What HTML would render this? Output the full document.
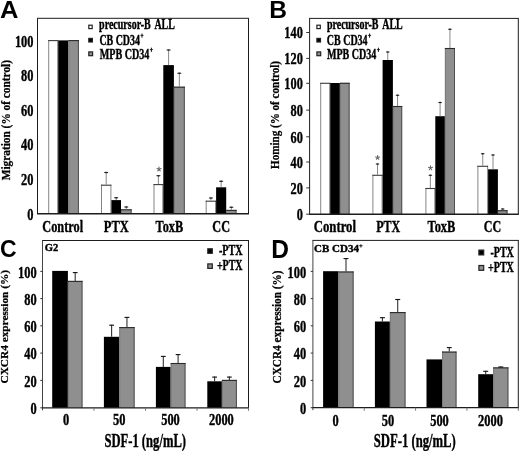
<!DOCTYPE html>
<html><head><meta charset="utf-8"><style>
html,body{margin:0;padding:0;background:#fff;}
body{width:520px;height:451px;overflow:hidden;}
svg{display:block;filter:blur(0.35px);}
</style></head><body>
<svg width="520" height="451" viewBox="0 0 520 451">
<rect x="0" y="0" width="520" height="451" fill="#fff"/>
<rect x="48.20" y="40.10" width="10.00" height="173.70" fill="#fff"/>
<line x1="48.70" y1="40.10" x2="48.70" y2="213.80" stroke="#858585" stroke-width="1"/>
<line x1="57.70" y1="40.10" x2="57.70" y2="213.80" stroke="#858585" stroke-width="1"/>
<line x1="48.20" y1="40.60" x2="58.20" y2="40.60" stroke="#3a3a3a" stroke-width="1.1"/>
<rect x="58.20" y="40.40" width="10.20" height="173.40" fill="#000"/>
<rect x="68.40" y="40.10" width="10.50" height="173.70" fill="#8f8f8f"/>
<line x1="68.90" y1="40.10" x2="68.90" y2="213.80" stroke="#7a7a7a" stroke-width="1"/>
<line x1="78.40" y1="40.10" x2="78.40" y2="213.80" stroke="#505050" stroke-width="1"/>
<line x1="68.40" y1="40.60" x2="78.90" y2="40.60" stroke="#2a2a2a" stroke-width="1.1"/>
<rect x="101.00" y="184.70" width="10.40" height="29.10" fill="#fff"/>
<line x1="101.50" y1="184.70" x2="101.50" y2="213.80" stroke="#858585" stroke-width="1"/>
<line x1="110.90" y1="184.70" x2="110.90" y2="213.80" stroke="#858585" stroke-width="1"/>
<line x1="101.00" y1="185.20" x2="111.40" y2="185.20" stroke="#3a3a3a" stroke-width="1.1"/>
<line x1="106.20" y1="172.00" x2="106.20" y2="184.70" stroke="#888" stroke-width="1.0"/>
<ellipse cx="106.20" cy="172.50" rx="2.20" ry="0.75" fill="#222"/>
<rect x="111.40" y="200.10" width="9.60" height="13.70" fill="#000"/>
<line x1="116.20" y1="197.20" x2="116.20" y2="200.10" stroke="#888" stroke-width="1.0"/>
<ellipse cx="116.20" cy="197.70" rx="2.20" ry="0.75" fill="#222"/>
<rect x="121.00" y="209.30" width="10.60" height="4.50" fill="#8f8f8f"/>
<line x1="121.50" y1="209.30" x2="121.50" y2="213.80" stroke="#7a7a7a" stroke-width="1"/>
<line x1="131.10" y1="209.30" x2="131.10" y2="213.80" stroke="#505050" stroke-width="1"/>
<line x1="121.00" y1="209.80" x2="131.60" y2="209.80" stroke="#2a2a2a" stroke-width="1.1"/>
<line x1="126.30" y1="206.50" x2="126.30" y2="209.30" stroke="#888" stroke-width="1.0"/>
<ellipse cx="126.30" cy="207.00" rx="2.20" ry="0.75" fill="#222"/>
<rect x="153.50" y="184.10" width="9.80" height="29.70" fill="#fff"/>
<line x1="154.00" y1="184.10" x2="154.00" y2="213.80" stroke="#858585" stroke-width="1"/>
<line x1="162.80" y1="184.10" x2="162.80" y2="213.80" stroke="#858585" stroke-width="1"/>
<line x1="153.50" y1="184.60" x2="163.30" y2="184.60" stroke="#3a3a3a" stroke-width="1.1"/>
<line x1="158.40" y1="175.20" x2="158.40" y2="184.10" stroke="#888" stroke-width="1.0"/>
<ellipse cx="158.40" cy="175.70" rx="2.20" ry="0.75" fill="#222"/>
<rect x="163.30" y="65.10" width="10.60" height="148.70" fill="#000"/>
<line x1="168.60" y1="49.50" x2="168.60" y2="65.10" stroke="#888" stroke-width="1.0"/>
<ellipse cx="168.60" cy="50.00" rx="2.20" ry="0.75" fill="#222"/>
<rect x="173.90" y="86.70" width="10.90" height="127.10" fill="#8f8f8f"/>
<line x1="174.40" y1="86.70" x2="174.40" y2="213.80" stroke="#7a7a7a" stroke-width="1"/>
<line x1="184.30" y1="86.70" x2="184.30" y2="213.80" stroke="#505050" stroke-width="1"/>
<line x1="173.90" y1="87.20" x2="184.80" y2="87.20" stroke="#2a2a2a" stroke-width="1.1"/>
<line x1="179.35" y1="72.70" x2="179.35" y2="86.70" stroke="#888" stroke-width="1.0"/>
<ellipse cx="179.35" cy="73.20" rx="2.20" ry="0.75" fill="#222"/>
<rect x="205.70" y="200.70" width="10.40" height="13.10" fill="#fff"/>
<line x1="206.20" y1="200.70" x2="206.20" y2="213.80" stroke="#858585" stroke-width="1"/>
<line x1="215.60" y1="200.70" x2="215.60" y2="213.80" stroke="#858585" stroke-width="1"/>
<line x1="205.70" y1="201.20" x2="216.10" y2="201.20" stroke="#3a3a3a" stroke-width="1.1"/>
<line x1="210.90" y1="197.50" x2="210.90" y2="200.70" stroke="#888" stroke-width="1.0"/>
<ellipse cx="210.90" cy="198.00" rx="2.20" ry="0.75" fill="#222"/>
<rect x="216.10" y="187.30" width="10.10" height="26.50" fill="#000"/>
<line x1="221.15" y1="180.80" x2="221.15" y2="187.30" stroke="#888" stroke-width="1.0"/>
<ellipse cx="221.15" cy="181.30" rx="2.20" ry="0.75" fill="#222"/>
<rect x="226.20" y="209.90" width="10.30" height="3.90" fill="#8f8f8f"/>
<line x1="226.70" y1="209.90" x2="226.70" y2="213.80" stroke="#7a7a7a" stroke-width="1"/>
<line x1="236.00" y1="209.90" x2="236.00" y2="213.80" stroke="#505050" stroke-width="1"/>
<line x1="226.20" y1="210.40" x2="236.50" y2="210.40" stroke="#2a2a2a" stroke-width="1.1"/>
<line x1="231.35" y1="206.80" x2="231.35" y2="209.90" stroke="#888" stroke-width="1.0"/>
<ellipse cx="231.35" cy="207.30" rx="2.20" ry="0.75" fill="#222"/>
<path d="M159.00,169.20 L159.00,167.10 M159.00,169.20 L161.00,168.55 M159.00,169.20 L160.23,170.90 M159.00,169.20 L157.77,170.90 M159.00,169.20 L157.00,168.55 " stroke="#666" stroke-width="1.1" stroke-linecap="round" fill="none"/>
<line x1="37.00" y1="18.30" x2="249.00" y2="18.30" stroke="#1c1c1c" stroke-width="1"/>
<line x1="248.50" y1="18.30" x2="248.50" y2="213.80" stroke="#1c1c1c" stroke-width="1"/>
<line x1="37.50" y1="18.30" x2="37.50" y2="213.80" stroke="#1c1c1c" stroke-width="1"/>
<line x1="37.00" y1="213.80" x2="249.00" y2="213.80" stroke="#1c1c1c" stroke-width="1.4"/>
<text x="14.90" y="46.68" style="font-family:'Liberation Serif',serif;font-weight:bold;font-size:17.2px" fill="#000" text-anchor="start" textLength="18.60" lengthAdjust="spacingAndGlyphs" stroke="#000" stroke-width="0.4">100</text>
<text x="21.10" y="81.38" style="font-family:'Liberation Serif',serif;font-weight:bold;font-size:17.2px" fill="#000" text-anchor="start" textLength="12.40" lengthAdjust="spacingAndGlyphs" stroke="#000" stroke-width="0.4">80</text>
<text x="21.10" y="116.08" style="font-family:'Liberation Serif',serif;font-weight:bold;font-size:17.2px" fill="#000" text-anchor="start" textLength="12.40" lengthAdjust="spacingAndGlyphs" stroke="#000" stroke-width="0.4">60</text>
<text x="21.10" y="150.48" style="font-family:'Liberation Serif',serif;font-weight:bold;font-size:17.2px" fill="#000" text-anchor="start" textLength="12.40" lengthAdjust="spacingAndGlyphs" stroke="#000" stroke-width="0.4">40</text>
<text x="21.10" y="185.18" style="font-family:'Liberation Serif',serif;font-weight:bold;font-size:17.2px" fill="#000" text-anchor="start" textLength="12.40" lengthAdjust="spacingAndGlyphs" stroke="#000" stroke-width="0.4">20</text>
<text x="27.30" y="219.88" style="font-family:'Liberation Serif',serif;font-weight:bold;font-size:17.2px" fill="#000" text-anchor="start" textLength="6.20" lengthAdjust="spacingAndGlyphs" stroke="#000" stroke-width="0.4">0</text>
<text x="42.30" y="232.40" style="font-family:'Liberation Serif',serif;font-weight:bold;font-size:17.5px" fill="#000" text-anchor="start" textLength="40.80" lengthAdjust="spacingAndGlyphs" stroke="#000" stroke-width="0.4">Control</text>
<text x="103.80" y="232.40" style="font-family:'Liberation Serif',serif;font-weight:bold;font-size:17.5px" fill="#000" text-anchor="start" textLength="24.90" lengthAdjust="spacingAndGlyphs" stroke="#000" stroke-width="0.4">PTX</text>
<text x="155.60" y="232.40" style="font-family:'Liberation Serif',serif;font-weight:bold;font-size:17.5px" fill="#000" text-anchor="start" textLength="27.50" lengthAdjust="spacingAndGlyphs" stroke="#000" stroke-width="0.4">ToxB</text>
<text x="212.30" y="232.40" style="font-family:'Liberation Serif',serif;font-weight:bold;font-size:17.5px" fill="#000" text-anchor="start" textLength="17.70" lengthAdjust="spacingAndGlyphs" stroke="#000" stroke-width="0.4">CC</text>
<rect x="88.80" y="25.20" width="3.40" height="3.40" fill="#fff" stroke="#222" stroke-width="1.2"/>
<text x="99.10" y="29.00" style="font-family:'Liberation Serif',serif;font-weight:bold;font-size:14.2px" fill="#000" text-anchor="start" textLength="51.60" lengthAdjust="spacingAndGlyphs" stroke="#000" stroke-width="0.4">precursor-B</text>
<text x="154.40" y="29.00" style="font-family:'Liberation Serif',serif;font-weight:bold;font-size:14.2px" fill="#000" text-anchor="start" textLength="20.40" lengthAdjust="spacingAndGlyphs" stroke="#000" stroke-width="0.4">ALL</text>
<rect x="88.80" y="38.40" width="3.60" height="3.60" fill="#000" stroke="#222" stroke-width="1.2"/>
<text x="99.40" y="44.50" style="font-family:'Liberation Serif',serif;font-weight:bold;font-size:14.2px" fill="#000" text-anchor="start" textLength="40.60" lengthAdjust="spacingAndGlyphs" stroke="#000" stroke-width="0.4">CB CD34</text>
<line x1="140.50" y1="35.39" x2="143.50" y2="35.39" stroke="#111" stroke-width="0.9"/>
<line x1="142.00" y1="33.50" x2="142.00" y2="37.70" stroke="#111" stroke-width="1.0"/>
<rect x="88.80" y="51.90" width="3.80" height="3.80" fill="#8f8f8f" stroke="#222" stroke-width="1.2"/>
<text x="99.80" y="58.70" style="font-family:'Liberation Serif',serif;font-weight:bold;font-size:14.2px" fill="#000" text-anchor="start" textLength="49.60" lengthAdjust="spacingAndGlyphs" stroke="#000" stroke-width="0.4">MPB CD34</text>
<line x1="149.90" y1="49.59" x2="152.90" y2="49.59" stroke="#111" stroke-width="0.9"/>
<line x1="151.40" y1="47.70" x2="151.40" y2="51.90" stroke="#111" stroke-width="1.0"/>
<text transform="translate(9.60,180.30) rotate(-90)" x="0" y="0" style="font-family:'Liberation Serif',serif;font-weight:bold;font-size:12.0px" fill="#000" stroke="#000" stroke-width="0.25" textLength="120.30" lengthAdjust="spacingAndGlyphs">Migration (% of control)</text>
<text transform="translate(0.06,17.90) scale(1.0299,1)" x="0" y="0" style="font-family:'Liberation Sans',sans-serif;font-weight:bold;font-size:24.78px" fill="#000">A</text>
<rect x="320.20" y="82.80" width="10.00" height="131.40" fill="#fff"/>
<line x1="320.70" y1="82.80" x2="320.70" y2="214.20" stroke="#858585" stroke-width="1"/>
<line x1="329.70" y1="82.80" x2="329.70" y2="214.20" stroke="#858585" stroke-width="1"/>
<line x1="320.20" y1="83.30" x2="330.20" y2="83.30" stroke="#3a3a3a" stroke-width="1.1"/>
<rect x="330.20" y="83.00" width="9.70" height="131.20" fill="#000"/>
<rect x="339.90" y="82.80" width="9.70" height="131.40" fill="#8f8f8f"/>
<line x1="340.40" y1="82.80" x2="340.40" y2="214.20" stroke="#7a7a7a" stroke-width="1"/>
<line x1="349.10" y1="82.80" x2="349.10" y2="214.20" stroke="#505050" stroke-width="1"/>
<line x1="339.90" y1="83.30" x2="349.60" y2="83.30" stroke="#2a2a2a" stroke-width="1.1"/>
<rect x="372.40" y="174.80" width="10.20" height="39.40" fill="#fff"/>
<line x1="372.90" y1="174.80" x2="372.90" y2="214.20" stroke="#858585" stroke-width="1"/>
<line x1="382.10" y1="174.80" x2="382.10" y2="214.20" stroke="#858585" stroke-width="1"/>
<line x1="372.40" y1="175.30" x2="382.60" y2="175.30" stroke="#3a3a3a" stroke-width="1.1"/>
<line x1="377.50" y1="163.50" x2="377.50" y2="174.80" stroke="#888" stroke-width="1.0"/>
<ellipse cx="377.50" cy="164.00" rx="1.90" ry="0.75" fill="#222"/>
<rect x="382.60" y="60.00" width="10.30" height="154.20" fill="#000"/>
<line x1="387.75" y1="51.50" x2="387.75" y2="60.00" stroke="#888" stroke-width="1.0"/>
<ellipse cx="387.75" cy="52.00" rx="1.90" ry="0.75" fill="#222"/>
<rect x="392.90" y="106.00" width="9.30" height="108.20" fill="#8f8f8f"/>
<line x1="393.40" y1="106.00" x2="393.40" y2="214.20" stroke="#7a7a7a" stroke-width="1"/>
<line x1="401.70" y1="106.00" x2="401.70" y2="214.20" stroke="#505050" stroke-width="1"/>
<line x1="392.90" y1="106.50" x2="402.20" y2="106.50" stroke="#2a2a2a" stroke-width="1.1"/>
<line x1="397.55" y1="94.70" x2="397.55" y2="106.00" stroke="#888" stroke-width="1.0"/>
<ellipse cx="397.55" cy="95.20" rx="1.90" ry="0.75" fill="#222"/>
<rect x="425.40" y="188.00" width="9.90" height="26.20" fill="#fff"/>
<line x1="425.90" y1="188.00" x2="425.90" y2="214.20" stroke="#858585" stroke-width="1"/>
<line x1="434.80" y1="188.00" x2="434.80" y2="214.20" stroke="#858585" stroke-width="1"/>
<line x1="425.40" y1="188.50" x2="435.30" y2="188.50" stroke="#3a3a3a" stroke-width="1.1"/>
<line x1="430.35" y1="174.80" x2="430.35" y2="188.00" stroke="#888" stroke-width="1.0"/>
<ellipse cx="430.35" cy="175.30" rx="1.90" ry="0.75" fill="#222"/>
<rect x="435.30" y="116.20" width="9.60" height="98.00" fill="#000"/>
<line x1="440.10" y1="101.90" x2="440.10" y2="116.20" stroke="#888" stroke-width="1.0"/>
<ellipse cx="440.10" cy="102.40" rx="1.90" ry="0.75" fill="#222"/>
<rect x="444.90" y="48.00" width="10.10" height="166.20" fill="#8f8f8f"/>
<line x1="445.40" y1="48.00" x2="445.40" y2="214.20" stroke="#7a7a7a" stroke-width="1"/>
<line x1="454.50" y1="48.00" x2="454.50" y2="214.20" stroke="#505050" stroke-width="1"/>
<line x1="444.90" y1="48.50" x2="455.00" y2="48.50" stroke="#2a2a2a" stroke-width="1.1"/>
<line x1="449.95" y1="28.80" x2="449.95" y2="48.00" stroke="#888" stroke-width="1.0"/>
<ellipse cx="449.95" cy="29.30" rx="1.90" ry="0.75" fill="#222"/>
<rect x="477.40" y="165.80" width="10.70" height="48.40" fill="#fff"/>
<line x1="477.90" y1="165.80" x2="477.90" y2="214.20" stroke="#858585" stroke-width="1"/>
<line x1="487.60" y1="165.80" x2="487.60" y2="214.20" stroke="#858585" stroke-width="1"/>
<line x1="477.40" y1="166.30" x2="488.10" y2="166.30" stroke="#3a3a3a" stroke-width="1.1"/>
<line x1="482.75" y1="153.20" x2="482.75" y2="165.80" stroke="#888" stroke-width="1.0"/>
<ellipse cx="482.75" cy="153.70" rx="1.90" ry="0.75" fill="#222"/>
<rect x="488.10" y="169.30" width="9.80" height="44.90" fill="#000"/>
<line x1="493.00" y1="154.60" x2="493.00" y2="169.30" stroke="#888" stroke-width="1.0"/>
<ellipse cx="493.00" cy="155.10" rx="1.90" ry="0.75" fill="#222"/>
<rect x="497.90" y="210.20" width="9.60" height="4.00" fill="#8f8f8f"/>
<line x1="498.40" y1="210.20" x2="498.40" y2="214.20" stroke="#7a7a7a" stroke-width="1"/>
<line x1="507.00" y1="210.20" x2="507.00" y2="214.20" stroke="#505050" stroke-width="1"/>
<line x1="497.90" y1="210.70" x2="507.50" y2="210.70" stroke="#2a2a2a" stroke-width="1.1"/>
<line x1="502.70" y1="208.50" x2="502.70" y2="210.20" stroke="#888" stroke-width="1.0"/>
<ellipse cx="502.70" cy="209.00" rx="1.90" ry="0.75" fill="#222"/>
<path d="M377.60,157.60 L377.60,155.50 M377.60,157.60 L379.60,156.95 M377.60,157.60 L378.83,159.30 M377.60,157.60 L376.37,159.30 M377.60,157.60 L375.60,156.95 " stroke="#666" stroke-width="1.1" stroke-linecap="round" fill="none"/>
<path d="M430.50,168.00 L430.50,165.90 M430.50,168.00 L432.50,167.35 M430.50,168.00 L431.73,169.70 M430.50,168.00 L429.27,169.70 M430.50,168.00 L428.50,167.35 " stroke="#666" stroke-width="1.1" stroke-linecap="round" fill="none"/>
<line x1="309.10" y1="18.40" x2="518.80" y2="18.40" stroke="#1c1c1c" stroke-width="1"/>
<line x1="518.30" y1="18.40" x2="518.30" y2="214.20" stroke="#1c1c1c" stroke-width="1"/>
<line x1="309.60" y1="18.40" x2="309.60" y2="214.20" stroke="#1c1c1c" stroke-width="1"/>
<line x1="309.10" y1="214.20" x2="518.80" y2="214.20" stroke="#1c1c1c" stroke-width="1.4"/>
<line x1="306.20" y1="32.50" x2="309.60" y2="32.50" stroke="#333" stroke-width="1"/>
<text x="284.35" y="38.48" style="font-family:'Liberation Serif',serif;font-weight:bold;font-size:17.2px" fill="#000" text-anchor="start" textLength="18.45" lengthAdjust="spacingAndGlyphs" stroke="#000" stroke-width="0.4">140</text>
<line x1="306.20" y1="58.40" x2="309.60" y2="58.40" stroke="#333" stroke-width="1"/>
<text x="284.35" y="64.38" style="font-family:'Liberation Serif',serif;font-weight:bold;font-size:17.2px" fill="#000" text-anchor="start" textLength="18.45" lengthAdjust="spacingAndGlyphs" stroke="#000" stroke-width="0.4">120</text>
<line x1="306.20" y1="83.30" x2="309.60" y2="83.30" stroke="#333" stroke-width="1"/>
<text x="284.35" y="89.28" style="font-family:'Liberation Serif',serif;font-weight:bold;font-size:17.2px" fill="#000" text-anchor="start" textLength="18.45" lengthAdjust="spacingAndGlyphs" stroke="#000" stroke-width="0.4">100</text>
<line x1="306.20" y1="110.10" x2="309.60" y2="110.10" stroke="#333" stroke-width="1"/>
<text x="290.50" y="116.08" style="font-family:'Liberation Serif',serif;font-weight:bold;font-size:17.2px" fill="#000" text-anchor="start" textLength="12.30" lengthAdjust="spacingAndGlyphs" stroke="#000" stroke-width="0.4">80</text>
<line x1="306.20" y1="136.80" x2="309.60" y2="136.80" stroke="#333" stroke-width="1"/>
<text x="290.50" y="142.78" style="font-family:'Liberation Serif',serif;font-weight:bold;font-size:17.2px" fill="#000" text-anchor="start" textLength="12.30" lengthAdjust="spacingAndGlyphs" stroke="#000" stroke-width="0.4">60</text>
<line x1="306.20" y1="162.00" x2="309.60" y2="162.00" stroke="#333" stroke-width="1"/>
<text x="290.50" y="167.98" style="font-family:'Liberation Serif',serif;font-weight:bold;font-size:17.2px" fill="#000" text-anchor="start" textLength="12.30" lengthAdjust="spacingAndGlyphs" stroke="#000" stroke-width="0.4">40</text>
<line x1="306.20" y1="187.90" x2="309.60" y2="187.90" stroke="#333" stroke-width="1"/>
<text x="290.50" y="193.88" style="font-family:'Liberation Serif',serif;font-weight:bold;font-size:17.2px" fill="#000" text-anchor="start" textLength="12.30" lengthAdjust="spacingAndGlyphs" stroke="#000" stroke-width="0.4">20</text>
<line x1="306.20" y1="214.20" x2="309.60" y2="214.20" stroke="#333" stroke-width="1"/>
<text x="296.65" y="220.18" style="font-family:'Liberation Serif',serif;font-weight:bold;font-size:17.2px" fill="#000" text-anchor="start" textLength="6.15" lengthAdjust="spacingAndGlyphs" stroke="#000" stroke-width="0.4">0</text>
<text x="313.70" y="232.40" style="font-family:'Liberation Serif',serif;font-weight:bold;font-size:17.5px" fill="#000" text-anchor="start" textLength="42.30" lengthAdjust="spacingAndGlyphs" stroke="#000" stroke-width="0.4">Control</text>
<text x="376.20" y="232.40" style="font-family:'Liberation Serif',serif;font-weight:bold;font-size:17.5px" fill="#000" text-anchor="start" textLength="24.00" lengthAdjust="spacingAndGlyphs" stroke="#000" stroke-width="0.4">PTX</text>
<text x="427.50" y="232.40" style="font-family:'Liberation Serif',serif;font-weight:bold;font-size:17.5px" fill="#000" text-anchor="start" textLength="27.90" lengthAdjust="spacingAndGlyphs" stroke="#000" stroke-width="0.4">ToxB</text>
<text x="483.80" y="232.40" style="font-family:'Liberation Serif',serif;font-weight:bold;font-size:17.5px" fill="#000" text-anchor="start" textLength="17.40" lengthAdjust="spacingAndGlyphs" stroke="#000" stroke-width="0.4">CC</text>
<rect x="316.90" y="25.20" width="3.40" height="3.40" fill="#fff" stroke="#222" stroke-width="1.2"/>
<text x="326.90" y="29.00" style="font-family:'Liberation Serif',serif;font-weight:bold;font-size:14.2px" fill="#000" text-anchor="start" textLength="51.60" lengthAdjust="spacingAndGlyphs" stroke="#000" stroke-width="0.4">precursor-B</text>
<text x="382.30" y="29.00" style="font-family:'Liberation Serif',serif;font-weight:bold;font-size:14.2px" fill="#000" text-anchor="start" textLength="20.40" lengthAdjust="spacingAndGlyphs" stroke="#000" stroke-width="0.4">ALL</text>
<rect x="316.90" y="38.40" width="3.60" height="3.60" fill="#000" stroke="#222" stroke-width="1.2"/>
<text x="326.80" y="44.50" style="font-family:'Liberation Serif',serif;font-weight:bold;font-size:14.2px" fill="#000" text-anchor="start" textLength="40.80" lengthAdjust="spacingAndGlyphs" stroke="#000" stroke-width="0.4">CB CD34</text>
<line x1="368.10" y1="35.39" x2="371.10" y2="35.39" stroke="#111" stroke-width="0.9"/>
<line x1="369.60" y1="33.50" x2="369.60" y2="37.70" stroke="#111" stroke-width="1.0"/>
<rect x="316.90" y="51.90" width="3.80" height="3.80" fill="#8f8f8f" stroke="#222" stroke-width="1.2"/>
<text x="327.00" y="58.70" style="font-family:'Liberation Serif',serif;font-weight:bold;font-size:14.2px" fill="#000" text-anchor="start" textLength="49.40" lengthAdjust="spacingAndGlyphs" stroke="#000" stroke-width="0.4">MPB CD34</text>
<line x1="376.90" y1="49.59" x2="379.90" y2="49.59" stroke="#111" stroke-width="0.9"/>
<line x1="378.40" y1="47.70" x2="378.40" y2="51.90" stroke="#111" stroke-width="1.0"/>
<text transform="translate(278.50,169.00) rotate(-90)" x="0" y="0" style="font-family:'Liberation Serif',serif;font-weight:bold;font-size:11.6px" fill="#000" stroke="#000" stroke-width="0.25" textLength="108.00" lengthAdjust="spacingAndGlyphs">Homing (% of control)</text>
<text transform="translate(269.20,17.95) scale(0.9951,1)" x="0" y="0" style="font-family:'Liberation Sans',sans-serif;font-weight:bold;font-size:24.71px" fill="#000">B</text>
<rect x="52.20" y="270.90" width="15.70" height="136.90" fill="#000"/>
<rect x="67.90" y="280.90" width="14.60" height="126.90" fill="#8f8f8f"/>
<line x1="68.40" y1="280.90" x2="68.40" y2="407.80" stroke="#7a7a7a" stroke-width="1"/>
<line x1="82.00" y1="280.90" x2="82.00" y2="407.80" stroke="#505050" stroke-width="1"/>
<line x1="67.90" y1="281.40" x2="82.50" y2="281.40" stroke="#2a2a2a" stroke-width="1.1"/>
<line x1="75.20" y1="272.10" x2="75.20" y2="280.90" stroke="#333" stroke-width="1.1"/>
<line x1="72.80" y1="272.60" x2="77.60" y2="272.60" stroke="#111" stroke-width="1.1"/>
<rect x="103.90" y="336.80" width="15.40" height="71.00" fill="#000"/>
<line x1="111.60" y1="324.70" x2="111.60" y2="336.80" stroke="#333" stroke-width="1.1"/>
<line x1="109.20" y1="325.20" x2="114.00" y2="325.20" stroke="#111" stroke-width="1.1"/>
<rect x="119.30" y="327.10" width="15.30" height="80.70" fill="#8f8f8f"/>
<line x1="119.80" y1="327.10" x2="119.80" y2="407.80" stroke="#7a7a7a" stroke-width="1"/>
<line x1="134.10" y1="327.10" x2="134.10" y2="407.80" stroke="#505050" stroke-width="1"/>
<line x1="119.30" y1="327.60" x2="134.60" y2="327.60" stroke="#2a2a2a" stroke-width="1.1"/>
<line x1="126.95" y1="316.90" x2="126.95" y2="327.10" stroke="#333" stroke-width="1.1"/>
<line x1="124.55" y1="317.40" x2="129.35" y2="317.40" stroke="#111" stroke-width="1.1"/>
<rect x="155.90" y="366.90" width="14.80" height="40.90" fill="#000"/>
<line x1="163.30" y1="355.90" x2="163.30" y2="366.90" stroke="#333" stroke-width="1.1"/>
<line x1="160.90" y1="356.40" x2="165.70" y2="356.40" stroke="#111" stroke-width="1.1"/>
<rect x="170.70" y="363.00" width="14.80" height="44.80" fill="#8f8f8f"/>
<line x1="171.20" y1="363.00" x2="171.20" y2="407.80" stroke="#7a7a7a" stroke-width="1"/>
<line x1="185.00" y1="363.00" x2="185.00" y2="407.80" stroke="#505050" stroke-width="1"/>
<line x1="170.70" y1="363.50" x2="185.50" y2="363.50" stroke="#2a2a2a" stroke-width="1.1"/>
<line x1="178.10" y1="354.10" x2="178.10" y2="363.00" stroke="#333" stroke-width="1.1"/>
<line x1="175.70" y1="354.60" x2="180.50" y2="354.60" stroke="#111" stroke-width="1.1"/>
<rect x="207.30" y="381.30" width="14.60" height="26.50" fill="#000"/>
<line x1="214.60" y1="376.60" x2="214.60" y2="381.30" stroke="#333" stroke-width="1.1"/>
<line x1="212.20" y1="377.10" x2="217.00" y2="377.10" stroke="#111" stroke-width="1.1"/>
<rect x="221.90" y="379.90" width="15.00" height="27.90" fill="#8f8f8f"/>
<line x1="222.40" y1="379.90" x2="222.40" y2="407.80" stroke="#7a7a7a" stroke-width="1"/>
<line x1="236.40" y1="379.90" x2="236.40" y2="407.80" stroke="#505050" stroke-width="1"/>
<line x1="221.90" y1="380.40" x2="236.90" y2="380.40" stroke="#2a2a2a" stroke-width="1.1"/>
<line x1="229.40" y1="376.60" x2="229.40" y2="379.90" stroke="#333" stroke-width="1.1"/>
<line x1="227.00" y1="377.10" x2="231.80" y2="377.10" stroke="#111" stroke-width="1.1"/>
<line x1="42.00" y1="240.50" x2="249.00" y2="240.50" stroke="#1c1c1c" stroke-width="1"/>
<line x1="248.50" y1="240.50" x2="248.50" y2="407.80" stroke="#1c1c1c" stroke-width="1"/>
<line x1="42.50" y1="240.50" x2="42.50" y2="410.30" stroke="#444" stroke-width="1"/>
<line x1="42.00" y1="407.80" x2="249.00" y2="407.80" stroke="#1c1c1c" stroke-width="1.3"/>
<line x1="40.30" y1="271.40" x2="42.50" y2="271.40" stroke="#333" stroke-width="1"/>
<text x="18.10" y="277.74" style="font-family:'Liberation Serif',serif;font-weight:bold;font-size:17.4px" fill="#000" text-anchor="start" textLength="18.60" lengthAdjust="spacingAndGlyphs" stroke="#000" stroke-width="0.4">100</text>
<line x1="40.30" y1="298.60" x2="42.50" y2="298.60" stroke="#333" stroke-width="1"/>
<text x="24.30" y="304.94" style="font-family:'Liberation Serif',serif;font-weight:bold;font-size:17.4px" fill="#000" text-anchor="start" textLength="12.40" lengthAdjust="spacingAndGlyphs" stroke="#000" stroke-width="0.4">80</text>
<line x1="40.30" y1="325.80" x2="42.50" y2="325.80" stroke="#333" stroke-width="1"/>
<text x="24.30" y="332.14" style="font-family:'Liberation Serif',serif;font-weight:bold;font-size:17.4px" fill="#000" text-anchor="start" textLength="12.40" lengthAdjust="spacingAndGlyphs" stroke="#000" stroke-width="0.4">60</text>
<line x1="40.30" y1="353.10" x2="42.50" y2="353.10" stroke="#333" stroke-width="1"/>
<text x="24.30" y="359.44" style="font-family:'Liberation Serif',serif;font-weight:bold;font-size:17.4px" fill="#000" text-anchor="start" textLength="12.40" lengthAdjust="spacingAndGlyphs" stroke="#000" stroke-width="0.4">40</text>
<line x1="40.30" y1="380.40" x2="42.50" y2="380.40" stroke="#333" stroke-width="1"/>
<text x="24.30" y="386.74" style="font-family:'Liberation Serif',serif;font-weight:bold;font-size:17.4px" fill="#000" text-anchor="start" textLength="12.40" lengthAdjust="spacingAndGlyphs" stroke="#000" stroke-width="0.4">20</text>
<line x1="40.30" y1="407.80" x2="42.50" y2="407.80" stroke="#333" stroke-width="1"/>
<text x="30.50" y="414.14" style="font-family:'Liberation Serif',serif;font-weight:bold;font-size:17.4px" fill="#000" text-anchor="start" textLength="6.20" lengthAdjust="spacingAndGlyphs" stroke="#000" stroke-width="0.4">0</text>
<line x1="94.00" y1="407.80" x2="94.00" y2="410.80" stroke="#777" stroke-width="1"/>
<line x1="145.50" y1="407.80" x2="145.50" y2="410.80" stroke="#777" stroke-width="1"/>
<line x1="197.00" y1="407.80" x2="197.00" y2="410.80" stroke="#777" stroke-width="1"/>
<line x1="248.50" y1="407.80" x2="248.50" y2="410.80" stroke="#777" stroke-width="1"/>
<text x="63.00" y="425.40" style="font-family:'Liberation Serif',serif;font-weight:bold;font-size:16.3px" fill="#000" text-anchor="start" textLength="6.20" lengthAdjust="spacingAndGlyphs" stroke="#000" stroke-width="0.4">0</text>
<text x="113.00" y="425.40" style="font-family:'Liberation Serif',serif;font-weight:bold;font-size:16.3px" fill="#000" text-anchor="start" textLength="12.40" lengthAdjust="spacingAndGlyphs" stroke="#000" stroke-width="0.4">50</text>
<text x="161.20" y="425.40" style="font-family:'Liberation Serif',serif;font-weight:bold;font-size:16.3px" fill="#000" text-anchor="start" textLength="18.60" lengthAdjust="spacingAndGlyphs" stroke="#000" stroke-width="0.4">500</text>
<text x="209.00" y="425.40" style="font-family:'Liberation Serif',serif;font-weight:bold;font-size:16.3px" fill="#000" text-anchor="start" textLength="24.80" lengthAdjust="spacingAndGlyphs" stroke="#000" stroke-width="0.4">2000</text>
<text x="104.40" y="446.80" style="font-family:'Liberation Serif',serif;font-weight:bold;font-size:18.8px" fill="#000" text-anchor="start" textLength="81.60" lengthAdjust="spacingAndGlyphs" stroke="#000" stroke-width="0.4">SDF-1 (ng/mL)</text>
<rect x="207.80" y="248.80" width="4.50" height="4.50" fill="#000" stroke="#222" stroke-width="1.2"/>
<text x="218.90" y="255.30" style="font-family:'Liberation Serif',serif;font-weight:bold;font-size:13.8px" fill="#000" text-anchor="start" textLength="23.60" lengthAdjust="spacingAndGlyphs" stroke="#000" stroke-width="0.4">-PTX</text>
<rect x="207.80" y="263.90" width="4.50" height="4.50" fill="#8f8f8f" stroke="#222" stroke-width="1.2"/>
<text x="216.90" y="270.10" style="font-family:'Liberation Serif',serif;font-weight:bold;font-size:13.8px" fill="#000" text-anchor="start" textLength="25.60" lengthAdjust="spacingAndGlyphs" stroke="#000" stroke-width="0.4">+PTX</text>
<text x="44.70" y="250.70" style="font-family:'Liberation Serif',serif;font-weight:bold;font-size:10.8px" fill="#000" text-anchor="start" textLength="13.50" lengthAdjust="spacingAndGlyphs" stroke="#000" stroke-width="0.4">G2</text>
<text transform="translate(8.30,383.50) rotate(-90)" x="0" y="0" style="font-family:'Liberation Serif',serif;font-weight:bold;font-size:11.2px" fill="#000" stroke="#000" stroke-width="0.25" textLength="113.50" lengthAdjust="spacingAndGlyphs">CXCR4 expression (%)</text>
<text transform="translate(0.08,257.35) scale(0.9407,1)" x="0" y="0" style="font-family:'Liberation Sans',sans-serif;font-weight:bold;font-size:24.51px" fill="#000">C</text>
<rect x="323.10" y="271.20" width="15.30" height="136.50" fill="#000"/>
<rect x="338.40" y="271.50" width="15.20" height="136.20" fill="#8f8f8f"/>
<line x1="338.90" y1="271.50" x2="338.90" y2="407.70" stroke="#7a7a7a" stroke-width="1"/>
<line x1="353.10" y1="271.50" x2="353.10" y2="407.70" stroke="#505050" stroke-width="1"/>
<line x1="338.40" y1="272.00" x2="353.60" y2="272.00" stroke="#2a2a2a" stroke-width="1.1"/>
<line x1="346.00" y1="258.10" x2="346.00" y2="271.50" stroke="#333" stroke-width="1.1"/>
<line x1="343.50" y1="258.60" x2="348.50" y2="258.60" stroke="#111" stroke-width="1.1"/>
<rect x="374.90" y="321.50" width="15.00" height="86.20" fill="#000"/>
<line x1="382.40" y1="317.20" x2="382.40" y2="321.50" stroke="#333" stroke-width="1.1"/>
<line x1="379.90" y1="317.70" x2="384.90" y2="317.70" stroke="#111" stroke-width="1.1"/>
<rect x="389.90" y="312.10" width="15.60" height="95.60" fill="#8f8f8f"/>
<line x1="390.40" y1="312.10" x2="390.40" y2="407.70" stroke="#7a7a7a" stroke-width="1"/>
<line x1="405.00" y1="312.10" x2="405.00" y2="407.70" stroke="#505050" stroke-width="1"/>
<line x1="389.90" y1="312.60" x2="405.50" y2="312.60" stroke="#2a2a2a" stroke-width="1.1"/>
<line x1="397.70" y1="299.00" x2="397.70" y2="312.10" stroke="#333" stroke-width="1.1"/>
<line x1="395.20" y1="299.50" x2="400.20" y2="299.50" stroke="#111" stroke-width="1.1"/>
<rect x="426.50" y="359.40" width="15.50" height="48.30" fill="#000"/>
<rect x="442.00" y="351.60" width="14.50" height="56.10" fill="#8f8f8f"/>
<line x1="442.50" y1="351.60" x2="442.50" y2="407.70" stroke="#7a7a7a" stroke-width="1"/>
<line x1="456.00" y1="351.60" x2="456.00" y2="407.70" stroke="#505050" stroke-width="1"/>
<line x1="442.00" y1="352.10" x2="456.50" y2="352.10" stroke="#2a2a2a" stroke-width="1.1"/>
<line x1="449.25" y1="347.10" x2="449.25" y2="351.60" stroke="#333" stroke-width="1.1"/>
<line x1="446.75" y1="347.60" x2="451.75" y2="347.60" stroke="#111" stroke-width="1.1"/>
<rect x="478.20" y="374.20" width="15.00" height="33.50" fill="#000"/>
<line x1="485.70" y1="370.80" x2="485.70" y2="374.20" stroke="#333" stroke-width="1.1"/>
<line x1="483.20" y1="371.30" x2="488.20" y2="371.30" stroke="#111" stroke-width="1.1"/>
<rect x="493.20" y="367.40" width="15.20" height="40.30" fill="#8f8f8f"/>
<line x1="493.70" y1="367.40" x2="493.70" y2="407.70" stroke="#7a7a7a" stroke-width="1"/>
<line x1="507.90" y1="367.40" x2="507.90" y2="407.70" stroke="#505050" stroke-width="1"/>
<line x1="493.20" y1="367.90" x2="508.40" y2="367.90" stroke="#2a2a2a" stroke-width="1.1"/>
<line x1="500.80" y1="366.50" x2="500.80" y2="367.40" stroke="#333" stroke-width="1.1"/>
<line x1="498.30" y1="367.00" x2="503.30" y2="367.00" stroke="#111" stroke-width="1.1"/>
<line x1="312.40" y1="240.40" x2="518.80" y2="240.40" stroke="#1c1c1c" stroke-width="1"/>
<line x1="518.30" y1="240.40" x2="518.30" y2="407.70" stroke="#1c1c1c" stroke-width="1"/>
<line x1="312.90" y1="240.40" x2="312.90" y2="410.20" stroke="#444" stroke-width="1"/>
<line x1="312.40" y1="407.70" x2="518.80" y2="407.70" stroke="#1c1c1c" stroke-width="1.3"/>
<line x1="310.70" y1="271.40" x2="312.90" y2="271.40" stroke="#333" stroke-width="1"/>
<text x="287.60" y="277.74" style="font-family:'Liberation Serif',serif;font-weight:bold;font-size:17.4px" fill="#000" text-anchor="start" textLength="18.60" lengthAdjust="spacingAndGlyphs" stroke="#000" stroke-width="0.4">100</text>
<line x1="310.70" y1="298.60" x2="312.90" y2="298.60" stroke="#333" stroke-width="1"/>
<text x="293.80" y="304.94" style="font-family:'Liberation Serif',serif;font-weight:bold;font-size:17.4px" fill="#000" text-anchor="start" textLength="12.40" lengthAdjust="spacingAndGlyphs" stroke="#000" stroke-width="0.4">80</text>
<line x1="310.70" y1="325.80" x2="312.90" y2="325.80" stroke="#333" stroke-width="1"/>
<text x="293.80" y="332.14" style="font-family:'Liberation Serif',serif;font-weight:bold;font-size:17.4px" fill="#000" text-anchor="start" textLength="12.40" lengthAdjust="spacingAndGlyphs" stroke="#000" stroke-width="0.4">60</text>
<line x1="310.70" y1="353.10" x2="312.90" y2="353.10" stroke="#333" stroke-width="1"/>
<text x="293.80" y="359.44" style="font-family:'Liberation Serif',serif;font-weight:bold;font-size:17.4px" fill="#000" text-anchor="start" textLength="12.40" lengthAdjust="spacingAndGlyphs" stroke="#000" stroke-width="0.4">40</text>
<line x1="310.70" y1="380.40" x2="312.90" y2="380.40" stroke="#333" stroke-width="1"/>
<text x="293.80" y="386.74" style="font-family:'Liberation Serif',serif;font-weight:bold;font-size:17.4px" fill="#000" text-anchor="start" textLength="12.40" lengthAdjust="spacingAndGlyphs" stroke="#000" stroke-width="0.4">20</text>
<line x1="310.70" y1="407.70" x2="312.90" y2="407.70" stroke="#333" stroke-width="1"/>
<text x="300.00" y="414.04" style="font-family:'Liberation Serif',serif;font-weight:bold;font-size:17.4px" fill="#000" text-anchor="start" textLength="6.20" lengthAdjust="spacingAndGlyphs" stroke="#000" stroke-width="0.4">0</text>
<line x1="364.25" y1="407.70" x2="364.25" y2="410.70" stroke="#777" stroke-width="1"/>
<line x1="415.60" y1="407.70" x2="415.60" y2="410.70" stroke="#777" stroke-width="1"/>
<line x1="466.95" y1="407.70" x2="466.95" y2="410.70" stroke="#777" stroke-width="1"/>
<line x1="518.30" y1="407.70" x2="518.30" y2="410.70" stroke="#777" stroke-width="1"/>
<text x="332.50" y="425.60" style="font-family:'Liberation Serif',serif;font-weight:bold;font-size:16.3px" fill="#000" text-anchor="start" textLength="6.20" lengthAdjust="spacingAndGlyphs" stroke="#000" stroke-width="0.4">0</text>
<text x="381.80" y="425.60" style="font-family:'Liberation Serif',serif;font-weight:bold;font-size:16.3px" fill="#000" text-anchor="start" textLength="12.40" lengthAdjust="spacingAndGlyphs" stroke="#000" stroke-width="0.4">50</text>
<text x="430.20" y="425.60" style="font-family:'Liberation Serif',serif;font-weight:bold;font-size:16.3px" fill="#000" text-anchor="start" textLength="18.60" lengthAdjust="spacingAndGlyphs" stroke="#000" stroke-width="0.4">500</text>
<text x="478.10" y="425.60" style="font-family:'Liberation Serif',serif;font-weight:bold;font-size:16.3px" fill="#000" text-anchor="start" textLength="24.80" lengthAdjust="spacingAndGlyphs" stroke="#000" stroke-width="0.4">2000</text>
<text x="373.80" y="446.80" style="font-family:'Liberation Serif',serif;font-weight:bold;font-size:18.8px" fill="#000" text-anchor="start" textLength="82.00" lengthAdjust="spacingAndGlyphs" stroke="#000" stroke-width="0.4">SDF-1 (ng/mL)</text>
<rect x="478.90" y="250.10" width="4.80" height="4.80" fill="#000" stroke="#222" stroke-width="1.2"/>
<text x="490.40" y="257.20" style="font-family:'Liberation Serif',serif;font-weight:bold;font-size:13.8px" fill="#000" text-anchor="start" textLength="23.50" lengthAdjust="spacingAndGlyphs" stroke="#000" stroke-width="0.4">-PTX</text>
<rect x="478.90" y="265.50" width="4.80" height="4.80" fill="#8f8f8f" stroke="#222" stroke-width="1.2"/>
<text x="488.00" y="272.00" style="font-family:'Liberation Serif',serif;font-weight:bold;font-size:13.8px" fill="#000" text-anchor="start" textLength="25.90" lengthAdjust="spacingAndGlyphs" stroke="#000" stroke-width="0.4">+PTX</text>
<text x="314.10" y="251.50" style="font-family:'Liberation Serif',serif;font-weight:bold;font-size:11.3px" fill="#000" text-anchor="start" textLength="44.90" lengthAdjust="spacingAndGlyphs" stroke="#000" stroke-width="0.4">CB CD34</text>
<line x1="359.20" y1="245.74" x2="362.60" y2="245.74" stroke="#111" stroke-width="0.9"/>
<line x1="360.90" y1="244.30" x2="360.90" y2="247.50" stroke="#111" stroke-width="1.0"/>
<text transform="translate(281.00,383.40) rotate(-90)" x="0" y="0" style="font-family:'Liberation Serif',serif;font-weight:bold;font-size:12.0px" fill="#000" stroke="#000" stroke-width="0.25" textLength="112.90" lengthAdjust="spacingAndGlyphs">CXCR4 expression (%)</text>
<text transform="translate(271.20,257.75) scale(0.9709,1)" x="0" y="0" style="font-family:'Liberation Sans',sans-serif;font-weight:bold;font-size:25.29px" fill="#000">D</text>
</svg>
</body></html>
